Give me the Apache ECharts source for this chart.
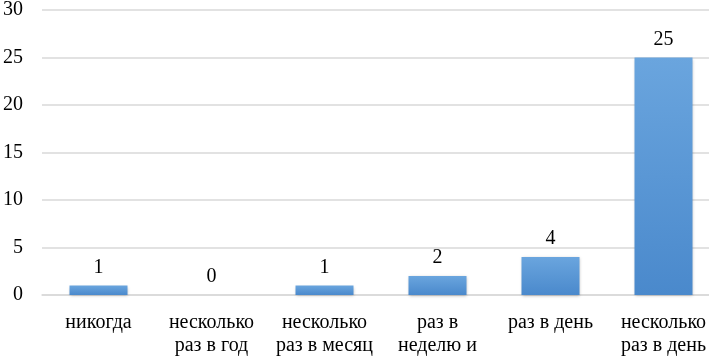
<!DOCTYPE html>
<html>
<head>
<meta charset="utf-8">
<script src="https://cdn.jsdelivr.net/npm/echarts@6/dist/echarts.min.js"></script>
<style>
  html, body { margin: 0; padding: 0; background: #fff; overflow: hidden; }
  #main { width: 720px; height: 357px; }
</style>
</head>
<body>
<div id="main"></div>
<script>
// данные
var categories = ['никогда', 'несколько\nраз в год', 'несколько\nраз в месяц', 'раз в\nнеделю и', 'раз в день', 'несколько\nраз в день'];
var values = [1, 0, 1, 2, 4, 25];

var chartDom = document.getElementById('main');
var myChart = echarts.init(chartDom);
var font = '"Liberation Serif", "Times New Roman", serif';

var option = {
    animation: false,
    grid: {
        left: 38,
        right: 0,
        top: 8,
        bottom: 61
    },
    xAxis: {
        type: 'category',
        data: categories,
        axisLine: { lineStyle: { color: '#d9d9d9', width: 1.5 } },
        axisTick: { show: false },
        axisLabel: {
            color: '#000',
            fontFamily: font,
            fontSize: 20,
            lineHeight: 23,
            margin: 16,
            interval: 0
        }
    },
    yAxis: {
        type: 'value',
        min: 0,
        max: 30,
        interval: 5,
        axisLabel: {
            color: '#000',
            fontFamily: font,
            fontSize: 20,
            margin: 19
        },
        splitLine: { lineStyle: { color: '#d9d9d9', width: 1.5 } }
    },
    series: [
        {
            type: 'bar',
            data: values,
            barWidth: 58,
            itemStyle: {
                color: new echarts.graphic.LinearGradient(0, 0, 0, 1, [
                    { offset: 0, color: '#6aa5de' },
                    { offset: 1, color: '#4a89cc' }
                ]),
                shadowColor: 'rgba(0,0,0,0.25)',
                shadowBlur: 3,
                shadowOffsetY: 1
            },
            label: {
                show: true,
                position: 'top',
                distance: 8,
                color: '#000',
                fontFamily: font,
                fontSize: 20
            }
        }
    ]
};

option && myChart.setOption(option);
</script>
</body>
</html>
